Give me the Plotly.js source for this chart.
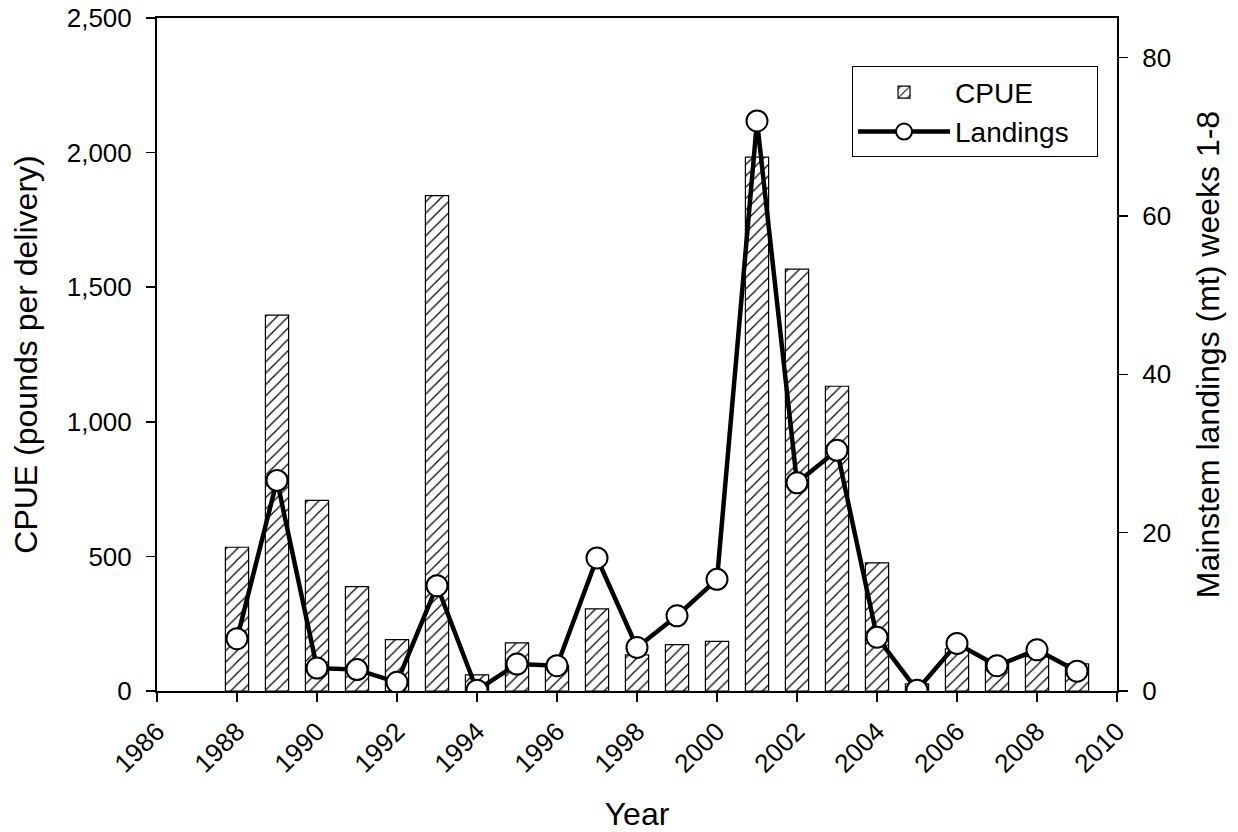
<!DOCTYPE html>
<html>
<head>
<meta charset="utf-8">
<script src="https://cdn.plot.ly/plotly-3.0.1.min.js"></script>
<style>html,body{margin:0;padding:0;background:#fff;}#chart{width:1238px;height:832px;}</style>
</head>
<body>
<div id="chart"></div>
<script>
const years = [1988,1989,1990,1991,1992,1993,1994,1995,1996,1997,1998,1999,2000,2001,2002,2003,2004,2005,2006,2007,2008,2009];
const cpue = [534,1396,708,388,191,1840,60,179,95,305,134,172,184,1983,1567,1132,476,27,157,115,128,101];
const landings = [6.6,26.6,2.9,2.7,1.1,13.3,0.1,3.4,3.2,16.8,5.5,9.5,14.1,72.0,26.3,30.4,6.8,0.1,6.0,3.2,5.2,2.5];
const xTicks = [1986,1988,1990,1992,1994,1996,1998,2000,2002,2004,2006,2008,2010];
const yTicksLeft = [0,500,1000,1500,2000,2500];
const yTicksRight = [0,20,40,60,80];

const font = "Liberation Sans, Arial, sans-serif";

const traces = [
  {
    type: 'bar', name: 'CPUE', x: years, y: cpue, width: 0.58,
    marker: {color: 'white', line: {color: 'black', width: 1.2},
      pattern: {shape: '/', fgcolor: 'black', bgcolor: 'white', size: 8, solidity: 0.15}},
    yaxis: 'y'
  },
  {
    type: 'scatter', mode: 'lines+markers', name: 'Landings\u00a0\u00a0\u00a0', x: years, y: landings,
    line: {color: 'black', width: 4.5},
    marker: {size: 21, color: 'white', line: {color: 'black', width: 2}},
    yaxis: 'y2'
  }
];

const layout = {
  width: 1238, height: 832,
  paper_bgcolor: 'white', plot_bgcolor: 'white',
  margin: {l: 157, r: 121, t: 18, b: 141},
  font: {family: font, color: 'black', size: 26},
  showlegend: true,
  legend: {
    x: 0.724, y: 0.928, xanchor: 'left', yanchor: 'top',
    bordercolor: 'black', borderwidth: 1, bgcolor: 'white',
    font: {family: font, size: 28}, itemwidth: 92, tracegroupgap: 0
  },
  xaxis: {
    range: [1986, 2010], tickvals: xTicks, tickangle: -45,
    ticks: 'outside', ticklen: 9, tickwidth: 1.5, tickcolor: 'black',
    ticklabelstandoff: 4,
    showline: true, linecolor: 'black', linewidth: 2, mirror: true,
    showgrid: false, zeroline: false,
    tickfont: {family: font, size: 26},
    title: {text: 'Year', font: {family: font, size: 32}, standoff: 32}
  },
  yaxis: {
    range: [0, 2500], tickvals: yTicksLeft, tickformat: ',d',
    ticks: 'outside', ticklen: 9, tickwidth: 1.5, tickcolor: 'black',
    ticklabelstandoff: 9,
    showline: true, linecolor: 'black', linewidth: 2,
    showgrid: false, zeroline: false,
    tickfont: {family: font, size: 26},
    title: {text: 'CPUE (pounds per delivery)', font: {family: font, size: 32}, standoff: 20}
  },
  yaxis2: {
    range: [0, 85], tickvals: yTicksRight, overlaying: 'y', side: 'right',
    ticks: 'outside', ticklen: 9, tickwidth: 1.5, tickcolor: 'black',
    ticklabelstandoff: 9,
    showline: true, linecolor: 'black', linewidth: 2,
    showgrid: false, zeroline: false,
    tickfont: {family: font, size: 26},
    title: {text: 'Mainstem landings (mt) weeks 1-8', font: {family: font, size: 32}, standoff: 26}
  }
};

Plotly.newPlot('chart', traces, layout, {displayModeBar: false, staticPlot: true});
</script>
</body>
</html>
